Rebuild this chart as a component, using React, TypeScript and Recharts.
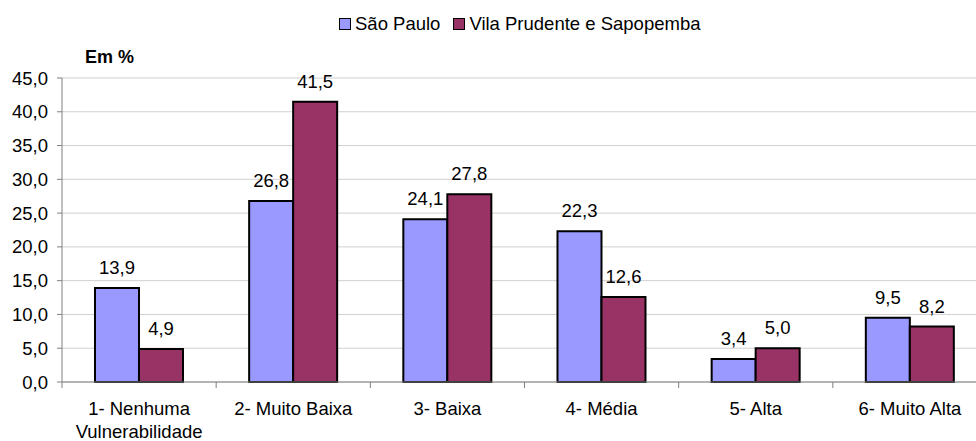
import React from 'react'
import { BarChart, Bar, XAxis, YAxis, CartesianGrid, LabelList, Text } from 'recharts'

const categorias = [
  '1- Nenhuma Vulnerabilidade',
  '2- Muito Baixa',
  '3- Baixa',
  '4- Média',
  '5- Alta',
  '6- Muito Alta',
]
const saoPaulo = [13.9, 26.8, 24.1, 22.3, 3.4, 9.5]
const vilaPrudente = [4.9, 41.5, 27.8, 12.6, 5.0, 8.2]
const yTicks = [0, 5, 10, 15, 20, 25, 30, 35, 40, 45]

const SERIES = [
  { key: 'sp', name: 'São Paulo', color: '#9999FF', values: saoPaulo },
  { key: 'vp', name: 'Vila Prudente e Sapopemba', color: '#993366', values: vilaPrudente },
]

const FONT = '"Liberation Sans", Arial, sans-serif'
const fmt = (v: number) => v.toFixed(1).replace('.', ',')

const data = categorias.map((c, i) => ({
  categoria: c,
  sp: saoPaulo[i],
  vp: vilaPrudente[i],
}))

function CategoryTick(props: any) {
  const { x, y, payload } = props
  const half = payload?.offset ?? 77
  return (
    <g>
      <line x1={x - half} x2={x - half} y1={y - 20} y2={y - 14} stroke="#808080" strokeWidth={1} />
      <Text
        x={x}
        y={y}
        width={150}
        textAnchor="middle"
        verticalAnchor="start"
        lineHeight={23}
        fontSize={18.5}
        fontFamily={FONT}
        fill="#000"
      >
        {payload.value}
      </Text>
    </g>
  )
}

export default function App() {
  return (
    <div
      style={{
        position: 'fixed',
        left: 0,
        top: 0,
        width: 976,
        height: 441,
        overflow: 'hidden',
        background: '#fff',
        fontFamily: FONT,
      }}
    >
      <div
        style={{
          position: 'absolute',
          left: 339,
          top: 13,
          display: 'flex',
          alignItems: 'center',
          fontSize: 18.5,
          lineHeight: '22px',
          color: '#000',
          whiteSpace: 'nowrap',
        }}
      >
        {SERIES.map((s, i) => (
          <span key={s.key} style={{ display: 'flex', alignItems: 'center', marginRight: i === 0 ? 13 : 0 }}>
            <span
              style={{
                display: 'inline-block',
                width: 10,
                height: 10,
                background: s.color,
                border: '1.5px solid #000',
                marginRight: 4,
              }}
            />
            {s.name}
          </span>
        ))}
      </div>
      <div
        style={{
          position: 'absolute',
          left: 85,
          top: 46,
          fontSize: 18,
          fontWeight: 'bold',
          lineHeight: '22px',
          color: '#000',
        }}
      >
        Em %
      </div>
      <BarChart
        width={1000}
        height={441}
        data={data}
        margin={{ top: 78, right: 13, bottom: 0, left: 0 }}
        barCategoryGap="21.4%"
        barGap={0}
      >
        <CartesianGrid vertical={false} stroke="#d0d0d0" />
        <XAxis
          dataKey="categoria"
          height={59}
          axisLine={{ stroke: '#808080' }}
          tickLine={false}
          tickSize={5}
          tickMargin={15}
          interval={0}
          tick={<CategoryTick />}
        />
        <YAxis
          width={62}
          domain={[0, 45]}
          ticks={yTicks}
          tickFormatter={fmt}
          axisLine={{ stroke: '#808080' }}
          tickLine={{ stroke: '#808080' }}
          tickSize={5}
          tickMargin={9}
          tick={{ fontSize: 18.5, fontFamily: FONT, fill: '#000' }}
        />
        {SERIES.map((s) => (
          <Bar
            key={s.key}
            dataKey={s.key}
            name={s.name}
            fill={s.color}
            stroke="#000"
            strokeWidth={2}
            isAnimationActive={false}
          >
            <LabelList
              dataKey={s.key}
              position="top"
              offset={14}
              formatter={(v: any) => fmt(Number(v))}
              style={{ fontSize: 18.5, fontFamily: FONT, fill: '#000' }}
            />
          </Bar>
        ))}
      </BarChart>
    </div>
  )
}
